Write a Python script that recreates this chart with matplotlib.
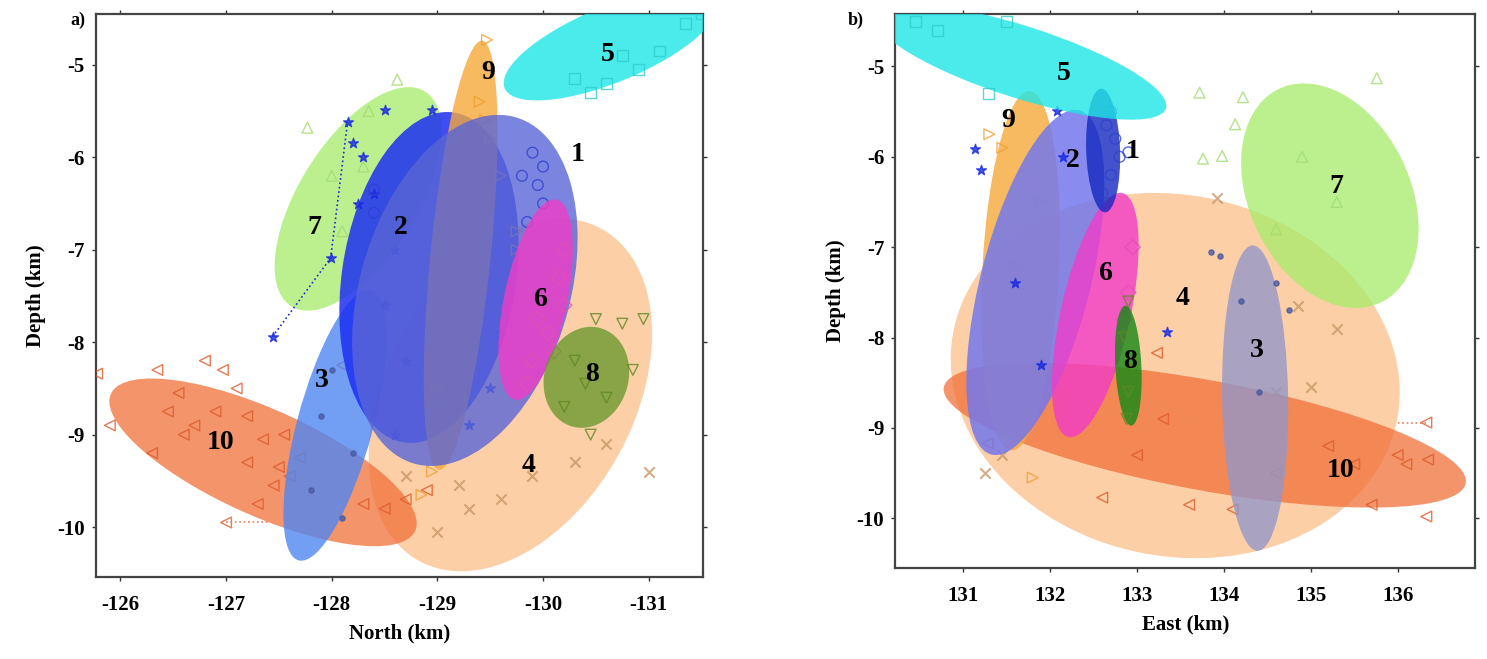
import numpy as np
import matplotlib
matplotlib.use('Agg')
import matplotlib.pyplot as plt
from matplotlib.patches import Ellipse

plt.rcParams['font.family'] = ['Liberation Serif', 'DejaVu Serif']
plt.rcParams['font.weight'] = 'bold'
plt.rcParams['axes.unicode_minus'] = False

# cluster ids
clusters = [1, 2, 3, 4, 5, 6, 7, 8, 9, 10]

# --- panel a): North vs depth, ellipse fits (center, full axes, angle in data space)
a_cn = [-129.26, -128.92, -128.03, -129.69, -130.64, -129.93, -128.25, -130.41, -129.22, -127.35]
a_cd = [-7.44, -7.30, -8.90, -8.57, -4.78, -7.54, -6.45, -8.38, -7.06, -9.30]
a_w = [3.87, 3.60, 3.00, 4.00, 2.22, 2.20, 2.65, 1.10, 4.66, 3.24]
a_h = [2.00, 1.65, 0.72, 2.40, 0.80, 0.60, 1.15, 0.80, 0.57, 1.12]
a_ang = [103, 97, 103, 112, 154, 100, 117, 100, 95, 28]
a_lab_n = [-130.33, -128.65, -127.91, -129.86, -130.61, -129.98, -127.84, -130.46, -129.48, -126.95]
a_lab_d = [-5.97, -6.76, -8.41, -9.33, -4.89, -7.54, -6.76, -8.35, -5.08, -9.08]

# --- panel b): East vs depth
b_ce = [132.61, 131.83, 134.36, 133.44, 131.66, 132.52, 135.22, 132.90, 131.66, 133.78]
b_cd = [-5.93, -7.39, -8.67, -8.42, -4.95, -7.75, -6.43, -8.31, -7.26, -9.08]
b_w = [1.37, 3.94, 3.38, 5.20, 3.50, 2.77, 2.64, 1.33, 3.98, 6.10]
b_h = [0.39, 1.26, 0.76, 4.00, 0.80, 0.80, 1.84, 0.30, 0.88, 1.22]
b_ang = [92, 75, 91, -10, -17, 77, 118, 93, 87, -10]
b_lab_e = [132.95, 132.26, 134.38, 133.53, 132.16, 132.64, 135.29, 132.92, 131.52, 135.34]
b_lab_d = [-5.94, -6.04, -8.14, -7.57, -5.08, -7.29, -6.33, -8.27, -5.60, -9.47]

# --- event locations (only a subset)
a_ev = {
    1: ([-129.9, -130.0, -129.95, -130.0, -129.85, -128.4, -128.4, -129.8],
        [-5.95, -6.1, -6.3, -6.5, -6.7, -6.35, -6.6, -6.2]),
    2: ([-128.15, -128.5, -128.95, -127.99, -127.44, -128.3, -128.4, -128.6, -128.5, -128.7, -128.9,
         -128.6, -129.3, -129.5, -129.6, -129.3, -129.5, -128.2, -128.25],
        [-5.62, -5.49, -5.49, -7.09, -7.94, -6.0, -6.4, -7.0, -7.6, -8.2, -8.6, -9.0, -8.9, -8.5,
         -7.9, -6.3, -6.0, -5.85, -6.5]),
    3: ([-128.0, -127.9, -128.2, -127.8, -128.1], [-8.3, -8.8, -9.2, -9.6, -9.9]),
    4: ([-131.0, -130.6, -130.3, -129.9, -129.6, -129.3, -129.0, -129.2, -128.7],
        [-9.4, -9.1, -9.3, -9.45, -9.7, -9.8, -10.05, -9.55, -9.45]),
    5: ([-130.45, -130.6, -130.9, -131.1, -131.35, -131.5, -130.3, -130.75],
        [-5.3, -5.2, -5.05, -4.85, -4.55, -4.45, -5.15, -4.9]),
    6: ([-130.2, -130.15, -130.2, -130.05, -129.9, -129.85, -130.1, -129.95],
        [-7.0, -7.3, -7.6, -7.9, -8.2, -8.45, -8.1, -7.75]),
    7: ([-127.77, -128.62, -128.35, -128.0, -128.1, -128.3], [-5.68, -5.16, -5.5, -6.2, -6.8, -6.1]),
    8: ([-130.5, -130.75, -130.95, -130.85, -130.6, -130.4, -130.2, -130.45, -130.3],
        [-7.75, -7.8, -7.75, -8.3, -8.6, -8.45, -8.7, -9.0, -8.2]),
    9: ([-129.47, -129.4, -129.45, -129.5, -129.6, -129.75, -129.75, -128.85, -128.95, -129.0],
        [-4.73, -5.4, -5.6, -5.8, -6.2, -6.8, -7.0, -9.65, -9.4, -8.5]),
    10: ([-125.78, -125.9, -126.35, -126.3, -126.8, -126.97, -127.1, -126.55, -126.45, -126.7, -126.9,
          -127.2, -127.35, -127.5, -127.6, -127.45, -127.3, -127.0, -127.7, -127.2, -128.3, -128.5,
          -128.7, -128.9, -128.1, -126.6, -127.55],
         [-8.34, -8.9, -8.3, -9.2, -8.2, -8.3, -8.5, -8.55, -8.75, -8.9, -8.75, -8.8, -9.05, -9.35,
          -9.45, -9.55, -9.75, -9.95, -9.25, -9.3, -9.75, -9.8, -9.7, -9.6, -8.25, -9.0, -9.0]),
}
b_ev = {
    1: ([132.7, 132.75, 132.8, 132.7, 132.6, 132.9, 132.65], [-5.5, -5.8, -6.0, -6.2, -6.4, -5.95, -5.65]),
    2: ([131.14, 131.2, 132.15, 132.08, 133.34, 131.6, 131.9], [-5.91, -6.15, -6.0, -5.49, -7.94, -7.4, -8.3]),
    3: ([133.85, 133.95, 134.6, 134.75, 134.2, 134.4], [-7.05, -7.1, -7.4, -7.7, -7.6, -8.6]),
    4: ([131.25, 131.45, 133.92, 134.85, 135.3, 135.0, 134.6], [-9.5, -9.3, -6.45, -7.65, -7.9, -8.55, -8.6]),
    5: ([130.45, 130.7, 131.29, 131.5, 132.57], [-4.5, -4.6, -5.3, -4.5, -5.41]),
    6: ([132.95, 132.9, 132.85], [-7.0, -7.5, -7.8]),
    7: ([133.72, 134.22, 133.76, 133.98, 134.13, 135.76, 134.9, 135.3, 134.6],
        [-5.29, -5.34, -6.02, -5.99, -5.64, -5.13, -6.0, -6.5, -6.8]),
    8: ([132.9, 132.85, 132.95, 132.9, 132.88], [-7.6, -8.0, -8.3, -8.6, -8.9]),
    9: ([131.3, 131.45, 131.9, 131.8, 131.6], [-5.75, -5.9, -6.5, -9.55, -7.2]),
    10: ([131.28, 132.6, 133.0, 133.3, 133.6, 134.1, 134.6, 135.2, 135.5, 135.7, 136.0, 136.1, 136.35,
          136.33, 136.33, 133.23],
         [-9.17, -9.77, -9.3, -8.9, -9.85, -9.9, -9.5, -9.2, -9.4, -9.85, -9.3, -9.4, -9.35, -8.94,
          -9.98, -8.17]),
}
# dotted trails joining outlying events
a_trail2 = ([-127.44, -127.99, -128.15], [-7.94, -7.09, -5.62])
a_trail10 = ([-127.0, -127.4], [-9.95, -9.95])
b_trail10 = ([136.33, 136.0], [-8.94, -8.94])

a_col = {1: '#5a66d6', 2: '#1c2ff2', 3: '#4f86f0', 4: '#fbc08a', 5: '#1fe6e6', 6: '#f23cc8',
         7: '#a6ec6a', 8: '#6d9a2e', 9: '#f5a93a', 10: '#f0703a'}
b_col = dict(a_col)
b_col.update({1: '#1428c0', 2: '#7478ec', 3: '#9497c8', 8: '#138a13'})
a_order = [4, 7, 10, 3, 2, 9, 1, 6, 8, 5]
b_order = [4, 10, 7, 3, 9, 2, 6, 1, 8, 5]
alphas = {1: 0.8, 2: 0.85, 3: 0.8, 4: 0.75, 5: 0.8, 6: 0.8, 7: 0.75, 8: 0.8, 9: 0.8, 10: 0.75}
mk = {1: ('o', '#3040d0', False), 2: ('*', '#1a2ae0', True), 3: ('.', '#4a5aa0', True),
      4: ('x', '#c89868', True), 5: ('s', '#30cccc', False), 6: ('D', '#e050b0', False),
      7: ('^', '#a0dc70', False), 8: ('v', '#5f8a20', False), 9: ('>', '#f0a030', False),
      10: ('<', '#e05a2a', False)}


def draw(ax, cx, cy, w, h, ang, cols, order, ev, lx, ly):
    for z, c in enumerate(order):
        i = clusters.index(c)
        ax.add_patch(Ellipse((cx[i], cy[i]), w[i], h[i], angle=ang[i], facecolor=cols[c],
                             edgecolor='none', alpha=alphas[c], zorder=2 + z))
        m, mc, filled = mk[c]
        xs, ys = ev[c]
        if filled:
            ax.scatter(xs, ys, marker=m, s=55, color=mc, alpha=0.8, zorder=2.5 + z)
        else:
            ax.scatter(xs, ys, marker=m, s=60, facecolors='none', edgecolors=mc,
                       linewidths=1.0, alpha=0.8, zorder=2.5 + z)
    for i, c in enumerate(clusters):
        ax.text(lx[i], ly[i], str(c), fontsize=20, fontweight='bold', ha='center', va='center',
                color='black', zorder=30)


fig = plt.figure(figsize=(14.87, 6.59), dpi=100)
ax1 = fig.add_axes([0.0646, 0.1244, 0.4079, 0.8544])
ax2 = fig.add_axes([0.6022, 0.138, 0.3897, 0.8407])

draw(ax1, a_cn, a_cd, a_w, a_h, a_ang, a_col, a_order, a_ev, a_lab_n, a_lab_d)
draw(ax2, b_ce, b_cd, b_w, b_h, b_ang, b_col, b_order, b_ev, b_lab_e, b_lab_d)
ax1.plot(*a_trail2, ':', color='#1a2ae0', lw=1.2, zorder=8)
ax1.plot(*a_trail10, ':', color='#e08060', lw=1.2, zorder=8)
ax2.plot(*b_trail10, ':', color='#e08060', lw=1.2, zorder=8)

ax1.set_xlim(-125.77, -131.51)
ax1.set_ylim(-10.54, -4.45)
ax1.set_xticks([-126, -127, -128, -129, -130, -131])
ax2.set_xlim(130.22, 136.89)
ax2.set_ylim(-10.55, -4.42)
ax2.set_xticks([131, 132, 133, 134, 135, 136])

for ax in (ax1, ax2):
    ax.set_yticks([-5, -6, -7, -8, -9, -10])
    ax.tick_params(direction='out', length=3, width=1, top=True, right=True, labelsize=15,
                   colors='#333333', labelcolor='black')
    ax.tick_params(axis='x', pad=10)
    ax.tick_params(axis='y', pad=5)
    for sp in ax.spines.values():
        sp.set_linewidth(1.6)
        sp.set_color('#444444')
    ax.set_ylabel('Depth (km)', fontsize=15, fontweight='bold', labelpad=8)

ax1.set_xlabel('North (km)', fontsize=15, fontweight='bold', labelpad=6)
ax2.set_xlabel('East (km)', fontsize=15, fontweight='bold', labelpad=6)
fig.text(0.047, 0.962, 'a)', fontsize=13, fontweight='bold')
fig.text(0.570, 0.962, 'b)', fontsize=13, fontweight='bold')

fig.savefig('out.png', dpi=100)
